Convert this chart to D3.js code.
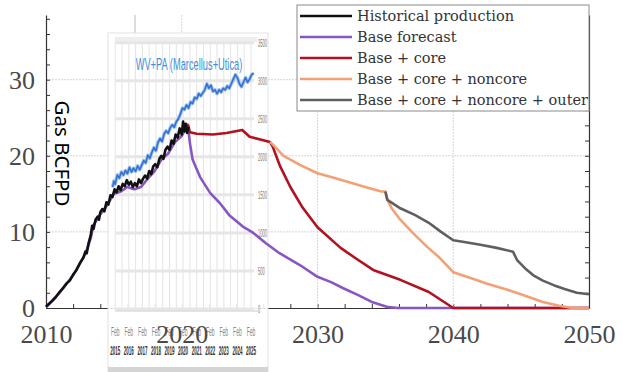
<!DOCTYPE html>
<html><head><meta charset="utf-8">
<script src="https://cdn.jsdelivr.net/npm/d3@7"></script>
<style>body{margin:0;background:#fff}svg{display:block}
.sf{font-family:"Liberation Serif","Times New Roman",serif;}
.df{font-family:"DejaVu Serif",serif;}
.ss{font-family:"Noto Sans","Open Sans",sans-serif;}
.ls{font-family:"Liberation Sans",Arial,sans-serif;}
</style>
</head><body><svg id="c" width="623" height="372"></svg>
<script>
// ---------- DATA ----------
const histYears = [2010.0,2010.25,2010.5,2010.75,2011.0,2011.25,2011.5,2011.75,2012.0,2012.25,2012.5,2012.75,2012.9,2013.0,2013.15,2013.3,2013.4,2013.5,2013.65,2013.8,2013.9,2014.0,2014.15,2014.3,2014.45,2014.6,2014.75,2014.9,2015.05,2015.2,2015.35,2015.5,2015.65,2015.8,2015.95,2016.1,2016.25,2016.4,2016.55,2016.7,2016.85,2017.0,2017.15,2017.3,2017.45,2017.6,2017.75,2017.9,2018.05,2018.2,2018.35,2018.5,2018.65,2018.8,2018.95,2019.1,2019.25,2019.4,2019.55,2019.7,2019.85,2020.0,2020.1,2020.2,2020.3,2020.4,2020.5];
const histValues = [0.2,0.6,1.0,1.5,2.1,2.6,3.2,3.6,4.4,5.0,5.9,6.6,7.4,7.2,8.6,9.6,10.8,10.4,11.6,12.0,11.6,12.6,13.0,12.7,13.9,13.6,14.8,14.6,15.6,15.2,16.0,15.5,16.3,16.0,16.8,16.2,16.6,15.9,16.4,16.0,16.9,16.4,17.0,17.4,17.0,18.0,17.6,18.6,18.9,18.5,19.6,20.0,19.6,20.8,21.2,20.8,22.0,21.6,22.8,22.4,23.6,22.8,24.5,23.2,24.2,23.0,23.8];

const baseYears = [2010.0,2011.0,2012.0,2012.9,2013.3,2013.5,2014.0,2014.5,2015.0,2015.5,2016.0,2016.5,2017.0,2017.5,2018.0,2018.5,2019.0,2019.5,2020.0,2020.45,2020.6,2020.8,2021.35,2022.1,2022.8,2023.5,2024.5,2025.25,2026.2,2027.2,2028.7,2030.0,2031.0,2031.9,2033.0,2034.0,2035.1,2035.9,2050.0];
const baseValues = [0.1,2.0,4.3,7.1,9.2,10.9,12.3,13.5,15.0,15.3,15.9,15.6,15.9,17.0,18.0,19.5,20.3,21.8,22.6,24.1,21.7,19.5,17.2,15.1,13.8,12.2,10.7,9.9,8.5,7.2,5.65,4.1,3.4,2.6,1.7,0.8,0.15,0,0];

const coreYears = [2020.45,2020.6,2021.1,2022.3,2023.3,2024.45,2024.7,2025.0,2026.5,2026.7,2027.25,2028.0,2028.9,2030.0,2031.7,2033.0,2034.1,2036.1,2038.2,2040.0,2050.0];
const coreValues = [24.1,23.1,22.9,22.8,23.0,23.4,23.0,22.5,21.8,21.2,18.6,15.9,13.2,10.6,7.9,6.3,5.0,3.7,2.1,0,0];

const noncoreYears = [2026.5,2026.7,2027.5,2028.7,2030.0,2031.0,2032.2,2033.7,2034.7,2035.0,2035.1,2035.5,2036.1,2037.0,2038.1,2039.0,2040.0,2041.0,2042.5,2044.0,2045.3,2046.6,2047.8,2048.8,2050.0];
const noncoreValues = [21.8,21.5,20.0,18.8,17.7,17.2,16.6,15.8,15.3,15.3,14.4,13.0,11.6,9.9,8.0,6.6,4.7,4.1,3.2,2.4,1.6,0.8,0.3,0,0];

const outerYears = [2035.0,2035.15,2036.1,2037.2,2038.2,2039.1,2040.0,2040.7,2042.0,2043.2,2044.4,2044.7,2045.3,2045.9,2046.6,2047.4,2048.2,2049.1,2050.0];
const outerValues = [15.3,14.2,13.1,12.2,11.2,10.0,8.9,8.7,8.3,7.9,7.4,6.3,5.2,4.3,3.6,3.0,2.5,2.0,1.8];

// inset (screenshot) series and labels
const insetYears = [2014.9,2015.0,2015.1,2015.25,2015.4,2015.55,2015.7,2015.85,2016.0,2016.15,2016.3,2016.45,2016.6,2016.75,2016.9,2017.05,2017.2,2017.35,2017.5,2017.65,2017.8,2017.95,2018.1,2018.25,2018.4,2018.55,2018.7,2018.85,2019.0,2019.15,2019.3,2019.45,2019.6,2019.75,2019.9,2020.05,2020.2,2020.35,2020.5,2020.65,2020.8,2020.95,2021.1,2021.25,2021.4,2021.55,2021.7,2021.85,2022.0,2022.15,2022.3,2022.45,2022.6,2022.75,2022.9,2023.05,2023.2,2023.35,2023.5,2023.65,2023.8,2023.95,2024.1,2024.25,2024.4,2024.55,2024.7,2024.85,2025.0,2025.15,2025.3];
const insetValues = [1600,1680,1640,1760,1720,1800,1760,1820,1780,1860,1800,1850,1810,1880,1830,1890,1950,1920,2020,1980,2060,2120,2080,2190,2240,2200,2300,2340,2310,2380,2420,2390,2460,2500,2560,2640,2620,2680,2640,2720,2700,2780,2760,2830,2800,2840,2880,2960,2900,2940,2860,2880,2830,2880,2850,2900,2880,2930,2900,2960,3020,3080,3040,2960,2920,2980,3040,2980,3020,3080,3100];
const insetTitle = "WV+PA (Marcellus+Utica)";
const insetTickValues = [0,500,1000,1500,2000,2500,3000,3500];
const insetMonthLabels = ["Feb","Feb","Feb","Feb","Feb","Feb","Feb","Feb","Feb","Feb","Feb"];
const insetYearLabels = ["2015","2016","2017","2018","2019","2020","2021","2022","2023","2024","2025"];

const legendLabels = ["Historical production","Base forecast","Base + core","Base + core + noncore","Base + core + noncore + outer"];
const xTickLabels = [2010,2020,2030,2040,2050];
const yTickLabels = [0,10,20,30];
const yAxisTitle = "Gas BCFPD";

// ---------- DRAW ----------
const svg = d3.select("#c");
const x = d3.scaleLinear().domain([2010,2050]).range([46,589]);
const y = d3.scaleLinear().domain([0,38.5]).range([308,15]);
const yi = d3.scaleLinear().domain([0,3850]).range([309,16]);

svg.append("rect").attr("width",623).attr("height",372).attr("fill","#fff");

// main gridlines
const grid = svg.append("g");
grid.selectAll("line.h").data([10,20,30]).join("line")
  .attr("x1",x(2010)).attr("x2",x(2050)).attr("y1",d=>y(d)).attr("y2",d=>y(d))
  .attr("stroke","#d6d6d6").attr("stroke-width",1).attr("stroke-dasharray","2,1");
grid.selectAll("line.v").data([2020,2030,2040]).join("line")
  .attr("x1",d=>x(d)).attr("x2",d=>x(d)).attr("y1",y(0)).attr("y2",y(38.5))
  .attr("stroke","#cfd8e0").attr("stroke-width",1).attr("stroke-dasharray","2,1");

// stray vertical line
svg.append("line").attr("x1",135).attr("x2",135).attr("y1",15).attr("y2",108)
  .attr("stroke","#bbb").attr("stroke-width",1);

// ---------- inset screenshot ----------
const ins = svg.append("g");
ins.append("rect").attr("x",108).attr("y",33).attr("width",160).attr("height",339)
  .attr("fill","#fff").attr("fill-opacity",0.88).attr("stroke","#e2e2e2");
ins.append("rect").attr("x",108).attr("y",367).attr("width",160).attr("height",5).attr("fill","#d4d4d4");
ins.append("rect").attr("x",115).attr("y",37).attr("width",142).attr("height",5).attr("fill","#eee");
const halfYears = d3.range(2015.1,2025.2,0.5);
ins.selectAll("line.iv").data(halfYears).join("line")
  .attr("x1",d=>x(d)).attr("x2",d=>x(d)).attr("y1",42).attr("y2",310)
  .attr("stroke","#e4e4e4").attr("stroke-width",1);
ins.selectAll("line.ih").data(insetTickValues).join("line")
  .attr("x1",116).attr("x2",254).attr("y1",d=>yi(d)).attr("y2",d=>yi(d))
  .attr("stroke","#e6e6e6").attr("stroke-width",3);
ins.append("line").attr("x1",115).attr("x2",258).attr("y1",311).attr("y2",311).attr("stroke","#ccc");
ins.selectAll("text.il").data(insetTickValues).join("text").attr("class","ls")
  .attr("transform",d=>`translate(258,${yi(d)+4}) scale(0.45,1.25)`)
  .attr("font-size",9).attr("fill","#777")
  .text(d=>d);
const labelYears = d3.range(0,11).map(i=>2015.1+i);
ins.selectAll("text.im").data(insetMonthLabels).join("text").attr("class","ls")
  .attr("transform",(d,i)=>`translate(${x(labelYears[i])},336) scale(0.5,1.3)`)
  .attr("text-anchor","middle")
  .attr("font-size",10).attr("fill","#888").text(d=>d);
ins.selectAll("text.iy").data(insetYearLabels).join("text").attr("class","ls")
  .attr("transform",(d,i)=>`translate(${x(labelYears[i])},355) scale(0.45,1.35)`)
  .attr("text-anchor","middle")
  .attr("font-size",10).attr("font-weight","bold").attr("fill","#333").text(d=>d);
ins.append("text").attr("class","ls").attr("transform","translate(189,70) scale(0.62,1.15)")
  .attr("text-anchor","middle")
  .attr("font-size",15).attr("fill","#3d8fdc").text(insetTitle);
const lineI = d3.line().x((d,i)=>x(insetYears[i])).y(d=>yi(d));
ins.append("path").datum(insetValues).attr("d",lineI).attr("fill","none")
  .attr("stroke","#9cc0ee").attr("stroke-width",3.5).attr("stroke-linejoin","round");
ins.append("path").datum(insetValues).attr("d",lineI).attr("fill","none")
  .attr("stroke","#3572d0").attr("stroke-width",1.6).attr("stroke-linejoin","round");

// ---------- axes ----------
const axCol = "#333";
const gx = svg.append("g").attr("transform",`translate(0,${y(0)})`)
  .call(d3.axisBottom(x).tickValues(d3.range(2010,2051,2)).tickSize(-4).tickSizeOuter(0).tickPadding(16.5)
    .tickFormat(d=>xTickLabels.includes(d)?d:""));
const gy = svg.append("g").attr("transform",`translate(${x(2010)},0)`)
  .call(d3.axisLeft(y).tickValues(d3.range(0,39,2)).tickSize(-4).tickSizeOuter(0).tickPadding(11)
    .tickFormat(d=>yTickLabels.includes(d)?d:""));
const gr = svg.append("g").attr("transform",`translate(${x(2050)},0)`)
  .call(d3.axisRight(y).tickValues(d3.range(0,39,2)).tickSize(-4).tickSizeOuter(0).tickFormat(""));
[gx,gy,gr].forEach(g=>{
  g.attr("font-family",null).attr("font-size",null);
  g.selectAll("path.domain").attr("stroke",axCol).attr("stroke-width",1.2);
  g.selectAll(".tick line").attr("stroke",axCol);
  g.selectAll(".tick text").attr("class","sf").attr("font-size",26).attr("fill","#4a4a4a");
});

// ---------- series ----------
const mk = (ys,vs)=>d3.line().x((d,i)=>x(ys[i])).y(d=>y(d))(vs);
const series = [
  {ys:baseYears, vs:baseValues, c:"#8856c2"},
  {ys:coreYears, vs:coreValues, c:"#b3111f"},
  {ys:noncoreYears, vs:noncoreValues, c:"#f3a077"},
  {ys:outerYears, vs:outerValues, c:"#5f5f5f"},
  {ys:histYears, vs:histValues, c:"#111"}
];
svg.append("g").selectAll("path").data(series).join("path")
  .attr("d",d=>mk(d.ys,d.vs)).attr("fill","none").attr("stroke",d=>d.c)
  .attr("stroke-width",2.6).attr("stroke-linejoin","round");

// 2020 label drawn over the inset
gx.raise();
gx.selectAll("path.domain, .tick line").remove();
svg.append("g").attr("transform",`translate(0,${y(0)})`)
  .call(d3.axisBottom(x).tickValues(d3.range(2010,2051,2)).tickSize(-4).tickSizeOuter(0).tickFormat(""))
  .call(g=>{g.select("path.domain").attr("stroke",axCol).attr("stroke-width",1.2);g.selectAll(".tick line").attr("stroke",axCol);})
  .lower();
svg.select("rect").lower();

// y title
svg.append("text").attr("class","ss").attr("transform","translate(55,153.5) rotate(90)")
  .attr("text-anchor","middle")
  .attr("font-size",20.5).attr("fill","#000").text(yAxisTitle);

// ---------- legend ----------
const legColors = ["#111","#8856c2","#b3111f","#f3a077","#5f5f5f"];
const lg = svg.append("g");
lg.append("rect").attr("x",297).attr("y",5).attr("width",292).attr("height",106)
  .attr("fill","#fff").attr("stroke","#8a8a8a").attr("stroke-width",1);
const rows = lg.selectAll("g.r").data(legendLabels).join("g")
  .attr("transform",(d,i)=>`translate(0,${16+i*21})`);
rows.append("line").attr("x1",300).attr("x2",352).attr("y1",0).attr("y2",0)
  .attr("stroke",(d,i)=>legColors[i]).attr("stroke-width",2.6);
rows.append("text").attr("class","df").attr("x",357).attr("y",5)
  .attr("font-size",14.5).attr("fill","#333").text(d=>d);
</script></body></html>
